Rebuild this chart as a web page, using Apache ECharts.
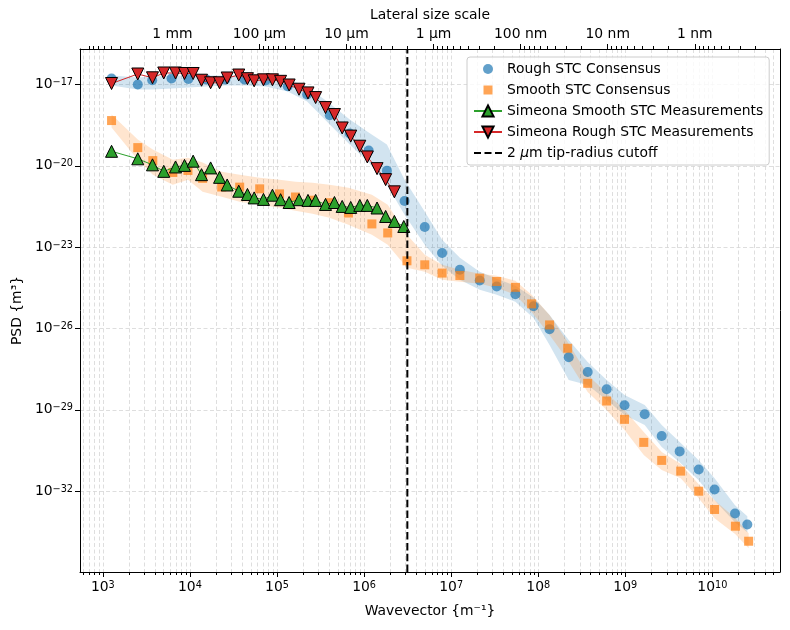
<!DOCTYPE html>
<html>
<head>
<meta charset="utf-8">
<script src="https://cdn.jsdelivr.net/npm/echarts@6/dist/echarts.min.js"></script>
<style>
  html, body { margin: 0; padding: 0; background: #fff; }
  #chart { width: 790px; height: 630px; }
</style>
</head>
<body>
<div id="chart"></div>
<script>
// values: wavevector q in 1/m, PSD in m^3
const roughQ = [1.26e3, 2.52e3, 3.69e3, 6.15e3, 9.6e3, 1.55e4, 2.56e4, 4.24e4, 7.4e4, 1.33e5, 2.22e5, 4.04e5,
  6.85e5, 1.13e6, 1.83e6, 2.92e6, 4.98e6, 7.88e6, 1.26e7, 2.13e7, 3.34e7, 5.47e7, 8.85e7, 1.35e8, 2.24e8,
  3.70e8, 6.11e8, 9.8e8, 1.67e9, 2.62e9, 4.21e9, 6.97e9, 1.06e10, 1.82e10, 2.52e10]
const roughPsd = [1.67e-17, 1.0e-17, 1.44e-17, 1.67e-17, 1.60e-17, 1.53e-17, 1.53e-17, 1.53e-17, 1.41e-17, 8.65e-18,
  4.28e-18, 7.35e-19, 1.55e-19, 3.65e-20, 6.65e-21, 5.09e-22, 5.53e-23, 6.07e-24, 1.47e-24, 5.90e-25, 3.54e-25,
  1.85e-25, 6.68e-26, 9.5e-27, 8.73e-28, 2.50e-28, 5.74e-29, 1.47e-29, 6.84e-30, 1.08e-30, 2.94e-31, 6.35e-32,
  1.16e-32, 1.51e-33, 5.92e-34]
const roughHi = [2.15e-17, 1.81e-17, 1.98e-17, 2.15e-17, 2.15e-17, 2.15e-17, 2.15e-17, 2.15e-17, 1.98e-17, 1.53e-17,
  8.43e-18, 1.99e-18, 5.09e-19, 1.69e-19, 6.08e-20, 3.10e-21, 2.03e-22, 1.88e-23, 4.06e-24, 1.24e-24, 6.81e-25,
  3.76e-25, 1.36e-25, 3.18e-26, 3.80e-27, 5.85e-28, 1.26e-28, 3.53e-29, 1.51e-29, 2.75e-30, 6.49e-31, 1.40e-31,
  3.03e-32, 3.05e-33, 1.20e-33]
const roughLo = [9.2e-18, 6.53e-18, 6.53e-18, 7.11e-18, 7.74e-18, 8.43e-18, 9.2e-18, 9.2e-18, 8.43e-18, 5.51e-18,
  2.36e-18, 3.33e-19, 6.08e-20, 1.32e-20, 2.02e-21, 1.58e-22, 1.23e-23, 2.06e-24, 6.25e-25, 2.67e-25, 1.75e-25,
  9.64e-26, 2.47e-26, 2.48e-27, 1.26e-28, 8.28e-29, 2.31e-29, 6.44e-30, 2.75e-30, 4.24e-31, 1.18e-31, 2.56e-32,
  4.67e-33, 7.19e-34, 3.07e-34]

const smoothQ = [1.26e3, 2.52e3, 3.75e3, 6.37e3, 9.5e3, 1.40e4, 2.32e4, 3.73e4, 6.33e4, 1.07e5, 1.63e5, 2.56e5,
  4.01e5, 6.62e5, 1.23e6, 1.87e6, 3.11e6, 4.98e6, 7.88e6, 1.26e7, 2.13e7, 3.34e7, 5.47e7, 8.4e7, 1.35e8, 2.18e8,
  3.70e8, 6.11e8, 9.8e8, 1.63e9, 2.62e9, 4.33e9, 6.97e9, 1.06e10, 1.84e10, 2.61e10]
const smoothPsd = [4.68e-19, 4.71e-20, 1.56e-20, 5.71e-21, 6.76e-21, 3.46e-21, 1.66e-21, 1.64e-21, 1.42e-21, 9.25e-22,
  7.10e-22, 5.41e-22, 4.38e-22, 1.82e-22, 7.21e-23, 3.35e-23, 3.15e-24, 2.24e-24, 1.11e-24, 9.0e-25, 7.23e-25,
  5.42e-25, 3.30e-25, 8.13e-26, 1.36e-26, 1.87e-27, 9.55e-29, 2.12e-29, 4.47e-30, 6.32e-31, 1.37e-31, 5.51e-32,
  1.0e-32, 2.12e-33, 5.12e-34, 1.43e-34]
const smoothHi = [7.80e-19, 9.29e-20, 3.97e-20, 1.69e-20, 2.01e-20, 1.32e-20, 6.11e-21, 4.73e-21, 3.66e-21, 3.10e-21,
  2.61e-21, 2.40e-21, 2.02e-21, 1.57e-21, 8.63e-22, 3.69e-22, 2.88e-23, 5.25e-24, 2.24e-24, 1.47e-24, 1.04e-24,
  8.79e-25, 5.75e-25, 1.75e-25, 3.18e-26, 3.21e-27, 1.94e-28, 4.19e-29, 9.86e-30, 1.52e-30, 2.77e-31, 9.98e-32,
  1.82e-32, 4.67e-33, 1.01e-33, 2.82e-34]
const smoothLo = [2.58e-19, 1.69e-20, 4.73e-21, 2.02e-21, 3.10e-21, 1.11e-21, 7.29e-22, 4.76e-22, 3.69e-22, 2.86e-22,
  2.21e-22, 1.72e-22, 1.22e-22, 6.73e-23, 2.88e-23, 1.23e-23, 1.74e-24, 1.24e-24, 6.25e-25, 5.28e-25, 4.46e-25,
  3.17e-25, 1.75e-25, 4.11e-26, 5.82e-27, 6.93e-28, 4.56e-29, 9.86e-30, 1.80e-30, 2.15e-31, 6.0e-32, 3.03e-32,
  5.53e-33, 1.01e-33, 2.59e-34, 7.87e-35]

const simeonaQ = [1.26e3, 2.52e3, 3.72e3, 5.01e3, 6.84e3, 8.67e3, 1.09e4, 1.36e4, 1.73e4, 2.19e4, 2.68e4, 3.64e4,
  4.58e4, 5.47e4, 7.00e4, 8.87e4, 1.10e5, 1.38e5, 1.79e5, 2.27e5, 2.78e5, 3.61e5, 4.57e5, 5.61e5, 7.03e5, 8.93e5,
  1.09e6, 1.41e6, 1.77e6, 2.23e6, 2.86e6]
const simeonaSmooth = [3.44e-20, 1.82e-20, 1.09e-20, 6.27e-21, 9.1e-21, 1.04e-20, 1.49e-20, 4.73e-21, 8.4e-21, 3.77e-21,
  1.97e-21, 1.16e-21, 8.8e-22, 6.58e-22, 5.79e-22, 8.28e-22, 5.65e-22, 4.45e-22, 5.65e-22, 5.32e-22, 5.32e-22,
  3.78e-22, 4.45e-22, 3.19e-22, 2.93e-22, 3.48e-22, 3.48e-22, 2.79e-22, 1.36e-22, 8.9e-23, 5.8e-23]
const simeonaRough = [1.09e-17, 2.44e-17, 1.77e-17, 2.66e-17, 2.66e-17, 2.55e-17, 2.55e-17, 1.44e-17, 1.16e-17, 1.16e-17,
  1.74e-17, 2.24e-17, 1.64e-17, 1.37e-17, 1.49e-17, 1.49e-17, 1.31e-17, 9.6e-18, 6.7e-18, 4.9e-18, 3.3e-18, 1.41e-18,
  7.8e-19, 2.5e-19, 1.25e-19, 5.3e-20, 2.13e-20, 7.9e-21, 3.1e-21, 1.10e-21]

const tipRadius = 2e-6
const xDecades = [3, 4, 5, 6, 7, 8, 9, 10]
const yDecades = [-32, -29, -26, -23, -20, -17]
const sizeLabels = ['1 mm', '100 µm', '10 µm', '1 µm', '100 nm', '10 nm', '1 nm']
const sizeValues = [1e-3, 1e-4, 1e-5, 1e-6, 1e-7, 1e-8, 1e-9]

const lg = Math.log10
const FONT = 'DejaVu Sans'
const FS = 13.9
const X_MIN = lg(547)
const X_MAX = lg(5.98e10)
const Y_MIN = -34.98
const Y_MAX = -15.69

const NAMES = {
  rough: 'Rough STC Consensus',
  smooth: 'Smooth STC Consensus',
  simSmooth: 'Simeona Smooth STC Measurements',
  simRough: 'Simeona Rough STC Measurements',
  cut: '2 µm tip-radius cutoff'
}

const pairs = (q, v) => v.map((y, i) => [lg(q[i]), lg(y)])

// shaded spread between lower and upper estimate, drawn through the axes
function band(q, lo, hi, fill) {
  return {
    type: 'custom',
    silent: true,
    clip: true,
    data: [[lg(q[0]), lg(lo[0])]],
    renderItem: (params, api) => {
      const upper = hi.map((v, i) => api.coord([lg(q[i]), lg(v)]))
      const lower = lo.map((v, i) => api.coord([lg(q[i]), lg(v)])).reverse()
      return { type: 'polygon', shape: { points: upper.concat(lower) }, style: { fill: fill } }
    }
  }
}

// log-spaced minor ticks
const xMinor = []
const topMinor = []
for (let n = 2; n <= 10; n++) {
  for (let k = 2; k <= 9; k++) {
    const a = n + lg(k)
    if (a > X_MIN && a < X_MAX) xMinor.push(a)
    const b = lg(2 * Math.PI / (k * Math.pow(10, -n)))
    if (b > X_MIN && b < X_MAX) topMinor.push(b)
  }
}
const topMajor = sizeValues.map(L => lg(2 * Math.PI / L))

const sup = v => '{b|10}{s|' + (v < 0 ? '\u2212' + (-v) : v) + '}'
const supRich = {
  b: { fontSize: FS, fontFamily: FONT, color: '#000' },
  s: { fontSize: 9.7, fontFamily: FONT, color: '#000', verticalAlign: 'top' }
}
const gridLine = { color: '#d6d6d6', width: 0.8, type: [4, 2.5] }
const black = { color: '#000', width: 1 }
const nameStyle = { fontSize: FS, fontFamily: FONT, color: '#000' }

// legend icons padded to the 28x14 icon box so markers keep their plot size
const ICON_BOX = 'path://M0,0M28,14'
const ICON_CIRCLE = ICON_BOX + 'M9,7a5,5 0 1,0 10,0a5,5 0 1,0 -10,0z'
const ICON_SQUARE = ICON_BOX + 'M9.5,2.5h9v9h-9z'
const ICON_DASH = ICON_BOX + 'M0,6h7v2h-7zM10.5,6h7v2h-7zM21,6h7v2h-7z'

const baseX = { type: 'value', min: X_MIN, max: X_MAX }

const option = {
  animation: false,
  backgroundColor: '#fff',
  grid: { left: 80, right: 10, top: 49, bottom: 58 },
  legend: {
    orient: 'vertical',
    left: 467,
    top: 57,
    padding: [5, 6, 5, 6],
    itemWidth: 28,
    itemHeight: 14,
    itemGap: 7,
    itemTextGap: 15,
    borderColor: '#cccccc',
    borderWidth: 1,
    borderRadius: 3,
    backgroundColor: 'rgba(255,255,255,0.8)',
    data: [
      { name: NAMES.rough, icon: ICON_CIRCLE },
      { name: NAMES.smooth, icon: ICON_SQUARE },
      NAMES.simSmooth,
      NAMES.simRough,
      { name: NAMES.cut, icon: ICON_DASH }
    ],
    formatter: name => name === NAMES.cut ? '2 {i|µ}m tip-radius cutoff' : name,
    textStyle: {
      fontSize: FS,
      fontFamily: FONT,
      color: '#000',
      rich: { i: { fontSize: FS, fontFamily: FONT, fontStyle: 'italic', color: '#000' } }
    }
  },
  xAxis: [
    {
      ...baseX,
      position: 'bottom',
      name: 'Wavevector {m⁻¹}',
      nameLocation: 'middle',
      nameGap: 32,
      nameTextStyle: nameStyle,
      axisLine: { show: true, onZero: false, lineStyle: black },
      axisTick: { show: true, customValues: xDecades, length: 5, lineStyle: black },
      axisLabel: { customValues: xDecades, formatter: sup, rich: supRich, margin: 8 },
      splitLine: { show: true, lineStyle: gridLine }
    },
    {
      ...baseX,
      position: 'bottom',
      axisLine: { show: false },
      axisTick: { show: true, customValues: xMinor, length: 3, lineStyle: black },
      axisLabel: { show: false },
      splitLine: { show: true, lineStyle: gridLine }
    },
    {
      ...baseX,
      position: 'top',
      name: 'Lateral size scale',
      nameLocation: 'middle',
      nameGap: 25,
      nameTextStyle: nameStyle,
      axisLine: { show: true, onZero: false, lineStyle: black },
      axisTick: { show: true, customValues: topMajor, length: 5, lineStyle: black },
      axisLabel: {
        customValues: topMajor,
        margin: 8,
        fontSize: FS,
        fontFamily: FONT,
        color: '#000',
        formatter: v => {
          const i = topMajor.findIndex(t => Math.abs(t - v) < 1e-6)
          return i < 0 ? '' : sizeLabels[i]
        }
      },
      splitLine: { show: false }
    },
    {
      ...baseX,
      position: 'top',
      axisLine: { show: false },
      axisTick: { show: true, customValues: topMinor, length: 3, lineStyle: black },
      axisLabel: { show: false },
      splitLine: { show: false }
    }
  ],
  yAxis: [
    {
      type: 'value',
      min: Y_MIN,
      max: Y_MAX,
      position: 'left',
      name: 'PSD {m³}',
      nameLocation: 'middle',
      nameGap: 55,
      nameTextStyle: nameStyle,
      axisLine: { show: true, onZero: false, lineStyle: black },
      axisTick: { show: true, customValues: yDecades, length: 5, lineStyle: black },
      axisLabel: { customValues: yDecades, formatter: sup, rich: supRich, margin: 7 },
      splitLine: { show: true, lineStyle: gridLine }
    },
    {
      type: 'value',
      min: Y_MIN,
      max: Y_MAX,
      position: 'right',
      axisLine: { show: true, onZero: false, lineStyle: black },
      axisTick: { show: false },
      axisLabel: { show: false },
      splitLine: { show: false }
    }
  ],
  series: [
    band(roughQ, roughLo, roughHi, 'rgba(31,119,180,0.2)'),
    band(smoothQ, smoothLo, smoothHi, 'rgba(255,127,14,0.2)'),
    {
      type: 'scatter', name: NAMES.rough,
      data: pairs(roughQ, roughPsd),
      symbol: 'circle', symbolSize: 10,
      itemStyle: { color: '#1f77b4', opacity: 0.7 }
    },
    {
      type: 'scatter', name: NAMES.smooth,
      data: pairs(smoothQ, smoothPsd),
      symbol: 'rect', symbolSize: 9,
      itemStyle: { color: '#ff7f0e', opacity: 0.7 }
    },
    {
      type: 'line', name: NAMES.simSmooth,
      data: pairs(simeonaQ, simeonaSmooth),
      symbol: 'triangle', symbolSize: 12, showAllSymbol: true,
      lineStyle: { color: '#2ca02c', width: 1 },
      itemStyle: { color: '#2ca02c', borderColor: '#000', borderWidth: 1 }
    },
    {
      type: 'line', name: NAMES.simRough,
      data: pairs(simeonaQ.slice(0, simeonaRough.length), simeonaRough),
      symbol: 'triangle', symbolRotate: 180, symbolSize: 12, showAllSymbol: true,
      lineStyle: { color: '#d62728', width: 1 },
      itemStyle: { color: '#d62728', borderColor: '#000', borderWidth: 1 }
    },
    {
      type: 'line', name: NAMES.cut,
      data: [[lg(2 * Math.PI / tipRadius), Y_MIN], [lg(2 * Math.PI / tipRadius), Y_MAX]],
      symbol: 'none', z: 5,
      lineStyle: { color: '#000', width: 2, type: [7.5, 3.3] },
      itemStyle: { color: '#000' }
    }
  ]
}

const chart = echarts.init(document.getElementById('chart'), null, { renderer: 'canvas' })
chart.setOption(option)
</script>
</body>
</html>
